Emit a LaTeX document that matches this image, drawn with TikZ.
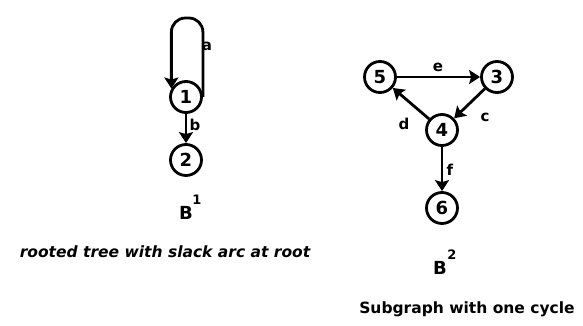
\documentclass[tikz,border=0pt]{standalone}
\usepackage{fontspec}
\setmainfont{DejaVu Sans}
\usetikzlibrary{arrows.meta}
\begin{document}
\begin{tikzpicture}[x=1pt,y=-1pt,
  vertex/.style={circle,draw,line width=2.8pt,minimum size=31pt,inner sep=0pt,
    font=\fontsize{18}{18}\selectfont\bfseries},
  arc/.style={line width=2.8pt,-{Stealth[length=11pt,width=14pt,inset=2pt]}},
  elabel/.style={font=\fontsize{15}{15}\selectfont\bfseries,inner sep=0pt},
  gname/.style={font=\fontsize{18}{18}\selectfont\bfseries,inner sep=0pt},
  gsup/.style={font=\fontsize{13}{13}\selectfont\bfseries,inner sep=0pt},
  caption/.style={font=\fontsize{15.5}{16}\selectfont\bfseries,inner sep=0pt}]
\useasboundingbox (0,0) rectangle (583,326);

% rooted tree with a slack arc at the root
\node[vertex] (n1) at (186,97) {1};
\node[vertex] (n2) at (186,160) {2};
\draw[arc,rounded corners=14pt] (n1.east) -- ++(0,-79) -| (n1.150);
\draw[arc] (n1) -- (n2);
\node[elabel] (la) at (207,46) {a};
\node[elabel] (lb) at (195,125) {b};
\node[gname] (g1) at (186,213) {B};
\node[gsup] (g1s) at (197,200) {1};
\node[caption,font=\fontsize{15.5}{16}\selectfont\bfseries\itshape] (c1) at (165,252)
  {rooted tree with slack arc at root};

% subgraph containing one cycle
\node[vertex] (n5) at (380,77) {5};
\node[vertex] (n3) at (497,77) {3};
\node[vertex] (n4) at (442,130) {4};
\node[vertex] (n6) at (442,208) {6};
\draw[arc] (n5) -- (n3);
\draw[arc] (n3) -- (n4);
\draw[arc] (n4) -- (n5);
\draw[arc] (n4) -- (n6);
\node[elabel] (le) at (438,67) {e};
\node[elabel] (lc) at (485,117) {c};
\node[elabel] (ld) at (404,124) {d};
\node[elabel] (lf) at (450,170) {f};
\node[gname] (g2) at (440,268) {B};
\node[gsup] (g2s) at (452,255) {2};
\node[caption] (c2) at (467,309) {Subgraph with one cycle};
\end{tikzpicture}
\end{document}
